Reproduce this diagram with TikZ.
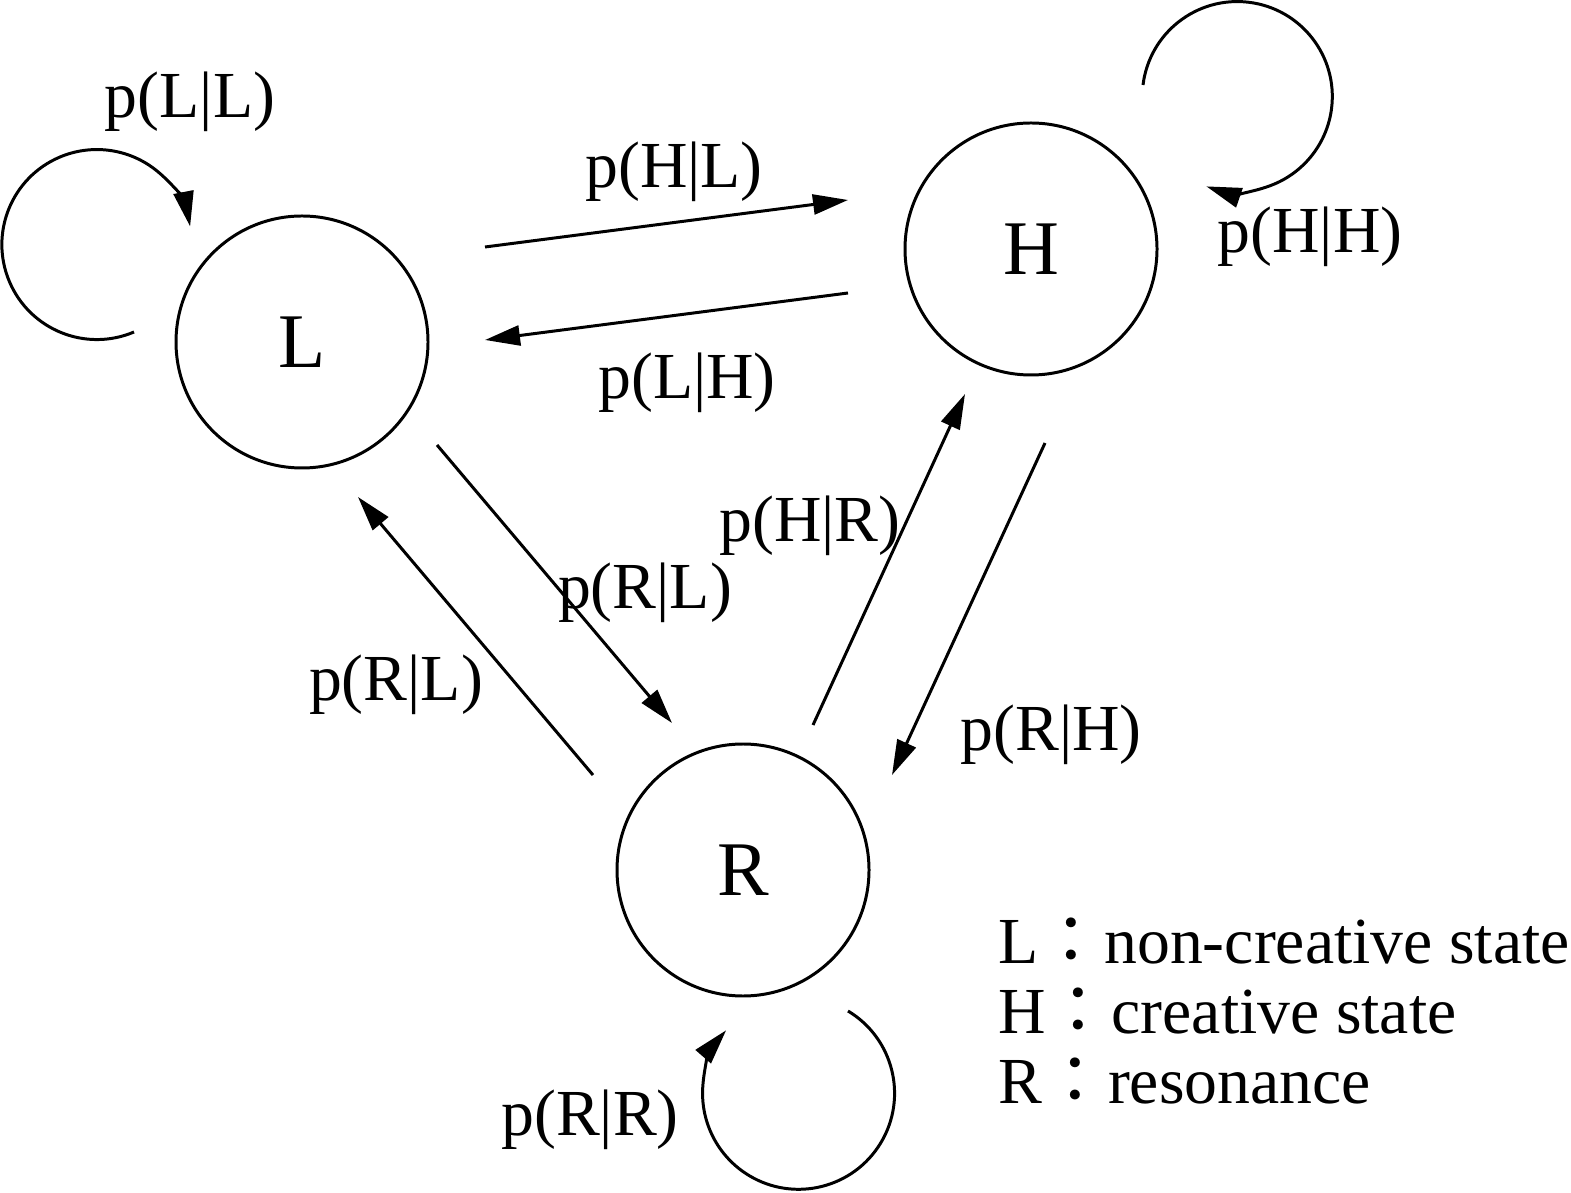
\documentclass[tikz,border=0pt]{standalone}
\usepackage{fontspec}
\setmainfont{Liberation Serif}
\newfontfamily\cjk{Noto Sans CJK JP}
\usetikzlibrary{positioning, arrows.meta, calc}

\begin{document}
\begin{tikzpicture}[>={Triangle[length=3.5mm, width=2mm]}, line width=0.85pt, font=\fontsize{18.7}{22}\selectfont]

    \tikzstyle{state} = [draw, circle, minimum size=2.52cm, inner sep=0pt, font=\fontsize{22}{26}\selectfont]
    \tikzstyle{lbl} = [inner sep=0pt]
    \tikzstyle{legend} = [anchor=base west, inner sep=0pt]

    \useasboundingbox (0,0) rectangle (15.71,11.92);

    % States
    \node[state] (L) at (3.02, 8.50) {L};
    \node[state] (H) at (10.31, 9.43) {H};
    \node[state] (R) at (7.43, 3.22) {R};

    % L <-> H
    \draw[->] ([shift={(1.83,0.95)}]L.center) -- ([shift={(-1.83,0.49)}]H.center);
    \draw[->] ([shift={(-1.83,-0.44)}]H.center) -- ([shift={(1.83,0.02)}]L.center);
    \node[lbl] (pHL) at (6.74, 10.20) {p(H|L)};
    \node[lbl] (pLH) at (6.87, 8.09) {p(L|H)};

    % L <-> R
    \draw[->] ([shift={(1.35,-1.03)}]L.center) -- ([shift={(-0.71,1.47)}]R.center);
    \draw[->] ([shift={(-1.50,0.95)}]R.center) -- ([shift={(0.56,-1.55)}]L.center);
    \node[lbl] (pRLa) at (6.45, 5.99) {p(R|L)};
    \node[lbl] (pRLb) at (3.96, 5.07) {p(R|L)};

    % R <-> H
    \draw[->] ([shift={(0.70,1.45)}]R.center) -- ([shift={(-0.66,-1.45)}]H.center);
    \draw[->] ([shift={(0.14,-1.94)}]H.center) -- ([shift={(1.49,0.95)}]R.center);
    \node[lbl] (pHR) at (8.10, 6.66) {p(H|R)};
    \node[lbl] (pRH) at (10.51, 4.57) {p(R|H)};

    % Self loops
    \draw[->] ([shift={(-1.68,0.10)}]L.center) arc[start angle=-67, end angle=-349, radius=0.95];
    \draw[->] ([shift={(1.12,1.64)}]H.center) arc[start angle=173, end angle=-109, radius=0.95];
    \draw[->] ([shift={(1.05,-1.41)}]R.center) arc[start angle=59, end angle=-221, radius=0.96];
    \node[lbl] (pLL) at (1.90, 10.90) {p(L|L)};
    \node[lbl] (pHH) at (13.10, 9.55) {p(H|H)};
    \node[lbl] (pRR) at (5.90, 0.72) {p(R|R)};

    % Legend
    \node[legend] (keyL) at (9.97, 2.29) {L{\cjk ：}non-creative state};
    \node[legend] (keyH) at (9.97, 1.59) {H{\cjk ：}creative state};
    \node[legend] (keyR) at (9.97, 0.89) {R{\cjk ：}resonance};
\end{tikzpicture}
\end{document}
